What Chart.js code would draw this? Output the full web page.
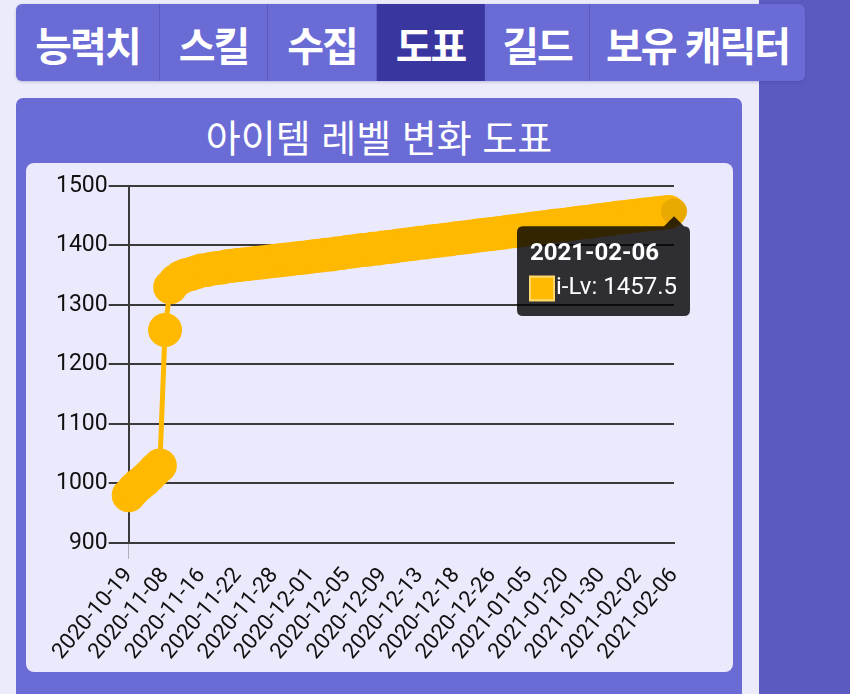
<!DOCTYPE html>
<html lang="ko">
<head>
<meta charset="utf-8">
<script src="https://cdn.jsdelivr.net/npm/chart.js@4.4.1/dist/chart.umd.min.js"></script>
<style>
  html, body { margin: 0; padding: 0; }
  body { width: 850px; height: 694px; background: #ecebfb; position: relative; overflow: hidden; font-family: "Noto Sans CJK KR", "Noto Sans", sans-serif; }
  #strip { position: absolute; left: 759px; top: 0; width: 91px; height: 694px; background: #5b5ac0; }
  #tabs { position: absolute; left: 16px; top: 4px; width: 789px; height: 77px; background: #6b6bd5; border-radius: 6px; display: flex; overflow: hidden; box-shadow: 0 1px 3px rgba(40,40,120,0.25); }
  .tab { height: 77px; line-height: 80px; text-align: center; color: #fff; font-weight: 700; font-size: 40px; box-sizing: border-box; border-right: 1px solid rgba(70,70,170,0.45); white-space: nowrap; letter-spacing: -2px; }
  .tab:last-child { border-right: none; }
  .tab.active { background: #3a369f; }
  #panel { position: absolute; left: 16px; top: 98px; width: 726px; height: 620px; background: #6b6bd5; border-radius: 7px; }
  #title { position: absolute; left: 0; top: 13px; width: 726px; text-align: center; color: #fff; font-size: 38px; line-height: 50px; font-weight: 400; }
  #inner { position: absolute; left: 10px; top: 65px; width: 707px; height: 509px; background: #ebe9fc; border-radius: 8px; }
  #chart { position: absolute; left: 0; top: 0; }
</style>
</head>
<body>
<div id="strip"></div>
<div id="tabs">
  <div class="tab" style="width:144px">능력치</div>
  <div class="tab" style="width:108px">스킬</div>
  <div class="tab" style="width:109px">수집</div>
  <div class="tab active" style="width:108px">도표</div>
  <div class="tab" style="width:105px">길드</div>
  <div class="tab" style="width:215px">보유 캐릭터</div>
</div>
<div id="panel">
  <div id="title">아이템 레벨 변화 도표</div>
  <div id="inner"><canvas id="chart" width="707" height="509"></canvas></div>
</div>
<script>
// ---- data ----
const dates = [
  "2020-10-19","2020-10-21","2020-10-24","2020-10-27","2020-10-29","2020-11-01","2020-11-04",
  "2020-11-08","2020-11-09","2020-11-10","2020-11-11","2020-11-12","2020-11-13","2020-11-15",
  "2020-11-16","2020-11-17","2020-11-18","2020-11-19","2020-11-20","2020-11-20","2020-11-21",
  "2020-11-22","2020-11-23","2020-11-24","2020-11-25","2020-11-26","2020-11-27","2020-11-27",
  "2020-11-28","2020-11-28","2020-11-29","2020-11-29","2020-11-30","2020-11-30","2020-12-01",
  "2020-12-01","2020-12-02","2020-12-02","2020-12-03","2020-12-04","2020-12-04","2020-12-05",
  "2020-12-05","2020-12-06","2020-12-06","2020-12-07","2020-12-07","2020-12-08","2020-12-08",
  "2020-12-09","2020-12-10","2020-12-10","2020-12-11","2020-12-11","2020-12-12","2020-12-12",
  "2020-12-13","2020-12-14","2020-12-15","2020-12-15","2020-12-16","2020-12-17","2020-12-17",
  "2020-12-18","2020-12-19","2020-12-20","2020-12-21","2020-12-22","2020-12-23","2020-12-24",
  "2020-12-26","2020-12-27","2020-12-28","2020-12-30","2020-12-31","2021-01-02","2021-01-03",
  "2021-01-05","2021-01-07","2021-01-09","2021-01-11","2021-01-13","2021-01-15","2021-01-18",
  "2021-01-20","2021-01-21","2021-01-23","2021-01-24","2021-01-26","2021-01-27","2021-01-29",
  "2021-01-30","2021-01-31","2021-01-31","2021-02-01","2021-02-01","2021-02-01","2021-02-02",
  "2021-02-02","2021-02-03","2021-02-03","2021-02-04","2021-02-04","2021-02-05","2021-02-05",
  "2021-02-06"
];
const itemLevels = [
  980, 990, 998, 1005, 1013, 1022, 1030,
  1258, 1330, 1340, 1346, 1350, 1352, 1355,
  1358, 1359, 1361, 1362, 1363, 1365, 1366,
  1367, 1368, 1369, 1370, 1371, 1372, 1373,
  1374, 1375, 1376, 1377, 1378, 1379, 1380,
  1381, 1382.5, 1383, 1384.5, 1385, 1386.5, 1387.5,
  1389, 1390, 1391, 1392.5, 1393, 1394.5, 1395,
  1396.5, 1397.5, 1398.5, 1400, 1401, 1402, 1403,
  1404.5, 1405, 1406.5, 1407.5, 1408.5, 1409.5, 1410.5,
  1412, 1413, 1414, 1415, 1416.5, 1417.5, 1418.5,
  1419.5, 1420.5, 1421.5, 1423, 1424, 1425, 1426,
  1427.5, 1428.5, 1429.5, 1430.5, 1432, 1433, 1434,
  1435, 1436, 1437.5, 1438.5, 1439.5, 1440.5, 1442,
  1443, 1444, 1445, 1446.5, 1447.5, 1448.5, 1449.5,
  1450.5, 1451.5, 1452.5, 1453.5, 1454.5, 1455.5, 1456.5,
  1457.5
];
const seriesLabel = "i-Lv";
const yTicks = { min: 900, max: 1500, step: 100 };
const labelEvery = 7;

// ---- chart ----
const YELLOW = '#ffb900';
function draw() {
  Chart.defaults.font.family = 'Roboto';
  const ctx = document.getElementById('chart');
  const chart = new Chart(ctx, {
    type: 'line',
    data: {
      labels: dates,
      datasets: [{
        label: seriesLabel,
        data: itemLevels,
        borderColor: YELLOW,
        backgroundColor: YELLOW,
        borderWidth: 5,
        pointRadius: 16,
        pointBorderWidth: 2,
        pointBorderColor: YELLOW,
        pointBackgroundColor: YELLOW,
        pointHoverRadius: 13,
        pointHoverBorderWidth: 0,
        pointHoverBackgroundColor: '#e8a900',
        tension: 0
      }]
    },
    options: {
      responsive: false,
      animation: false,
      events: [],
      layout: { padding: { left: 29, top: 23, right: 59, bottom: 3 } },
      plugins: {
        legend: { display: false },
        tooltip: {
          enabled: true,
          xAlign: 'right',
          yAlign: 'top',
          caretSize: 10,
          caretPadding: 5,
          cornerRadius: 6,
          padding: { top: 13, bottom: 13, left: 13, right: 13 },
          backgroundColor: 'rgba(0,0,0,0.8)',
          titleFont: { family: 'Roboto', size: 24, weight: 'bold' },
          bodyFont: { family: 'Roboto', size: 24 },
          titleMarginBottom: 6,
          boxWidth: 24,
          boxHeight: 24,
          callbacks: {
            label: (c) => c.dataset.label + ': ' + c.raw,
            labelColor: () => ({ borderColor: '#ffd766', backgroundColor: YELLOW, borderWidth: 2 })
          }
        }
      },
      scales: {
        x: {
          type: 'category',
          offset: false,
          afterBuildTicks: (scale) => { scale.ticks = scale.ticks.filter((t, i) => i % labelEvery === 0); },
          ticks: { autoSkip: false, minRotation: 50, maxRotation: 50, color: '#111', font: { size: 22 }, padding: 4 },
          grid: {
            drawOnChartArea: false,
            drawTicks: true,
            tickLength: 16,
            color: (c) => c.index === 0 ? 'rgba(0,0,0,0.25)' : 'rgba(0,0,0,0)'
          },
          border: { display: true, color: '#3a3a3a', width: 2 }
        },
        y: {
          min: yTicks.min,
          max: yTicks.max,
          ticks: { stepSize: yTicks.step, color: '#111', font: { size: 23 }, padding: 1, callback: (v) => String(v) },
          grid: { color: '#3a3a3a', lineWidth: 2, tickLength: 20 },
          border: { display: true, color: '#3a3a3a', width: 2 }
        }
      }
    }
  });
  const last = itemLevels.length - 1;
  const meta = chart.getDatasetMeta(0);
  const pt = meta.data[last];
  chart.setActiveElements([{ datasetIndex: 0, index: last }]);
  chart.tooltip.setActiveElements([{ datasetIndex: 0, index: last }], { x: pt.x, y: pt.y });
  chart.update();
}
if (document.fonts && document.fonts.load) {
  Promise.all([document.fonts.load('22px Roboto'), document.fonts.load('bold 24px Roboto')]).then(draw, draw);
} else { draw(); }
</script>
</body>
</html>
